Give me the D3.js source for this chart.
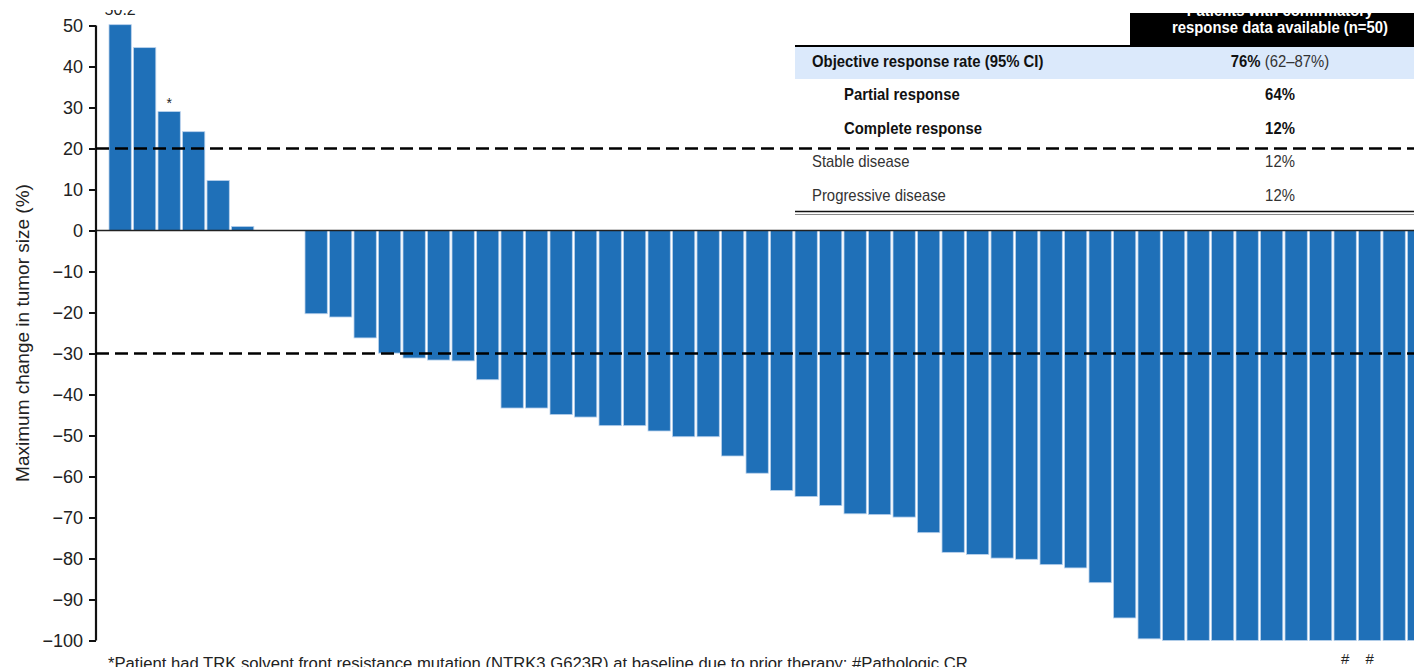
<!DOCTYPE html>
<html>
<head>
<meta charset="utf-8">
<script src="https://cdn.jsdelivr.net/npm/d3@7"></script>
<style>
  html, body { margin: 0; padding: 0; background: #fff; }
  svg { display: block; font-family: "Liberation Sans", Arial, sans-serif; }
</style>
</head>
<body>
<svg id="chart" width="1414" height="667"></svg>
<script>
// Best change in tumour size per patient, sorted (waterfall)
const patientIds = d3.range(54);
const tumorChange = [
  50.2, 44.6, 29.0, 24.1, 12.2, 1.0,
  0, 0,
  -20.3, -21.1, -26.2, -29.9, -31.1, -31.6, -31.8, -36.4,
  -43.3, -43.3, -44.9, -45.5, -47.6, -47.6, -48.9, -50.3,
  -50.3, -55.0, -59.2, -63.4, -64.9, -67.1, -69.1, -69.3,
  -69.9, -73.7, -78.5, -79.0, -79.9, -80.2, -81.5, -82.3,
  -85.9, -94.5, -99.6, -100, -100, -100, -100, -100,
  -100, -100, -100, -100, -100, -100
];
const yTicks = [50, 40, 30, 20, 10, 0, -10, -20, -30, -40, -50, -60, -70, -80, -90, -100];
const thresholds = [20, -30];

// Bar annotations
const topMarks = [{ i: 0, text: "50.2" }, { i: 2, text: "*" }];
const bottomMarks = [{ i: 50, text: "#" }, { i: 51, text: "#" }];

// Response summary table
const tableHeader = ["Patients with confirmatory", "response data available (n=50)"];
const rowLabels = ["Objective response rate (95% CI)", "Partial response", "Complete response", "Stable disease", "Progressive disease"];
const rowValues = ["76%", "64%", "12%", "12%", "12%"];
const rowCI = [" (62\u201387%)", "", "", "", ""];
const rowBold = [true, true, true, false, false];
const rowIndent = [false, true, true, false, false];

const footnote = "*Patient had TRK solvent front resistance mutation (NTRK3 G623R) at baseline due to prior therapy; #Pathologic CR";

const svg = d3.select("#chart");
const axisX = 96;

const x = d3.scaleBand()
  .domain(patientIds)
  .range([106.8, 1432])
  .paddingInner(0.09)
  .paddingOuter(0.09);

const y = d3.scaleLinear().domain([-100, 50]).range([640.5, 25.5]);

// clip for the top of the drawing
svg.append("defs").append("clipPath").attr("id", "topclip")
  .append("rect").attr("x", 0).attr("y", 10).attr("width", 1414).attr("height", 700);
svg.select("defs").append("clipPath").attr("id", "hdrclip")
  .append("rect").attr("x", 1130).attr("y", 13).attr("width", 300).attr("height", 33);

const root = svg.append("g").attr("clip-path", "url(#topclip)");

// Bars
root.append("g").selectAll("rect")
  .data(tumorChange)
  .join("rect")
  .attr("x", (d, i) => x(i))
  .attr("width", x.bandwidth())
  .attr("y", d => y(Math.max(0, d)))
  .attr("height", d => Math.abs(y(d) - y(0)))
  .attr("fill", "#1f70b8")
  .attr("stroke", "#b9d1ec")
  .attr("stroke-width", 0.8);

// Zero line
root.append("line")
  .attr("x1", axisX).attr("x2", 1414)
  .attr("y1", y(0)).attr("y2", y(0))
  .attr("stroke", "#222").attr("stroke-width", 1.6);

// Y axis
const yAxis = d3.axisLeft(y).tickValues(yTicks).tickSize(7).tickPadding(6).tickFormat(d3.format("d"));
const ya = root.append("g").attr("transform", `translate(${axisX},0)`).call(yAxis);
ya.select(".domain").attr("stroke", "#111").attr("stroke-width", 2.2)
  .attr("d", `M0,${y(50)}V${y(-100)}`);
ya.selectAll(".tick line").attr("stroke", "#111").attr("stroke-width", 2);
ya.selectAll(".tick text")
  .attr("font-size", 18).attr("fill", "#222")
  .attr("font-family", "'Liberation Sans', Arial, sans-serif");

// Y axis title
root.append("text")
  .attr("transform", `translate(29,333) rotate(-90)`)
  .attr("text-anchor", "middle")
  .attr("font-size", 19).attr("fill", "#222")
  .text("Maximum change in tumor size (%)");

// Threshold lines
root.append("g").selectAll("line")
  .data(thresholds)
  .join("line")
  .attr("x1", axisX).attr("x2", 1414)
  .attr("y1", d => y(d)).attr("y2", d => y(d))
  .attr("stroke", "#000").attr("stroke-width", 2.6)
  .attr("stroke-dasharray", "13,6");

// Annotations above / below bars
root.append("g").selectAll("text")
  .data(topMarks)
  .join("text")
  .attr("x", d => x(d.i) + x.bandwidth() / 2)
  .attr("y", d => y(tumorChange[d.i]) - (d.text === "*" ? 4 : 10))
  .attr("text-anchor", "middle")
  .attr("font-size", d => d.text === "*" ? 14 : 16)
  .attr("fill", "#222")
  .text(d => d.text);

root.append("g").selectAll("text")
  .data(bottomMarks)
  .join("text")
  .attr("x", d => x(d.i) + x.bandwidth() / 2)
  .attr("y", 664)
  .attr("text-anchor", "middle")
  .attr("font-size", 15)
  .attr("fill", "#222")
  .text(d => d.text);

// Summary table
const tbl = root.append("g");
const tLeft = 795, tRight = 1414, valX = 1280;
const squeeze = 0.93;
const rowY = d3.scaleLinear().domain([0, 4]).range([61, 195]);

tbl.append("rect").attr("x", 1130).attr("y", 13).attr("width", 284).attr("height", 33).attr("fill", "#000");
const hdr = tbl.append("g").attr("clip-path", "url(#hdrclip)");
tableHeader.forEach((t, k) => {
  hdr.append("text")
    .attr("transform", `translate(${valX},${16 + k * 17}) scale(${squeeze},1)`)
    .attr("text-anchor", "middle")
    .attr("font-size", 16).attr("font-weight", "bold").attr("fill", "#fff")
    .text(t);
});
tbl.append("rect").attr("x", tLeft).attr("y", 47).attr("width", tRight - tLeft).attr("height", 32).attr("fill", "#dbe9fb");
tbl.append("line").attr("x1", tLeft).attr("x2", tRight).attr("y1", 46).attr("y2", 46).attr("stroke", "#000").attr("stroke-width", 2);
tbl.append("line").attr("x1", tLeft).attr("x2", tRight).attr("y1", 211.5).attr("y2", 211.5).attr("stroke", "#111").attr("stroke-width", 1.6);
tbl.append("line").attr("x1", tLeft).attr("x2", tRight).attr("y1", 214.5).attr("y2", 214.5).attr("stroke", "#888").attr("stroke-width", 1);

rowLabels.forEach((lab, k) => {
  tbl.append("text")
    .attr("transform", `translate(${rowIndent[k] ? 844 : 812},${rowY(k) + 5.5}) scale(${squeeze},1)`)
    .attr("font-size", 16)
    .attr("font-weight", rowBold[k] ? "bold" : "normal")
    .attr("fill", rowBold[k] ? "#111" : "#333")
    .text(lab);
  const v = tbl.append("text")
    .attr("transform", `translate(${valX},${rowY(k) + 5.5}) scale(${squeeze},1)`)
    .attr("text-anchor", "middle")
    .attr("font-size", 16)
    .attr("fill", rowBold[k] ? "#111" : "#333");
  v.append("tspan").attr("font-weight", rowBold[k] ? "bold" : "normal").text(rowValues[k]);
  if (rowCI[k]) v.append("tspan").attr("font-weight", "normal").attr("fill", "#333").text(rowCI[k]);
});

// Footnote along the bottom edge
root.append("text")
  .attr("transform", "translate(108,669) scale(0.98,1)")
  .attr("font-size", 17).attr("fill", "#222")
  .text(footnote);
</script>
</body>
</html>
